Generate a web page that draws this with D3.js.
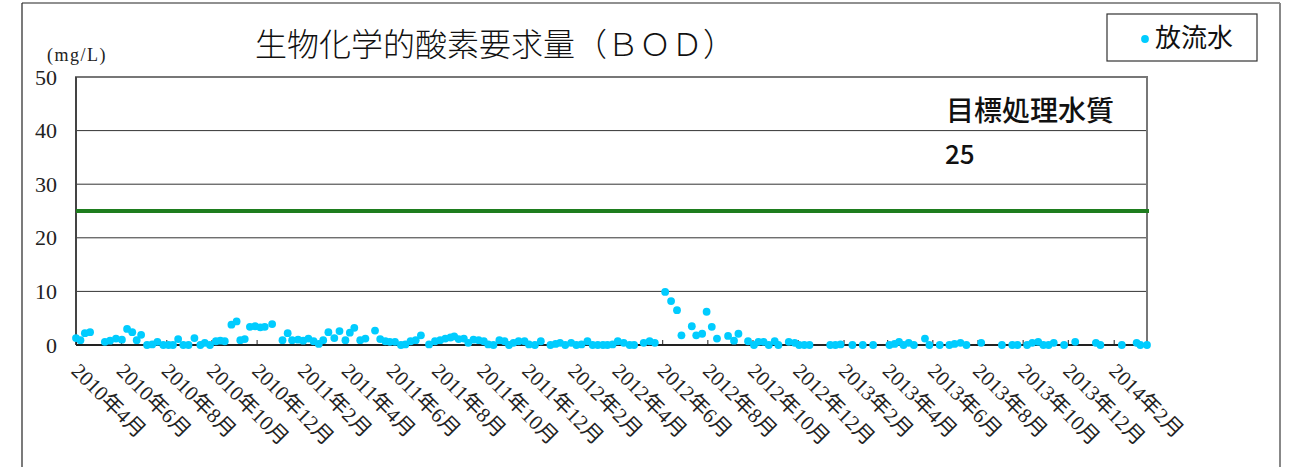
<!DOCTYPE html>
<html>
<head>
<meta charset="utf-8">
<script src="https://cdn.jsdelivr.net/npm/d3@7"></script>
<style>
  body { margin: 0; background: #fff; }
  svg { display: block; }
  .serif { font-family: "Liberation Serif", "Noto Sans CJK JP", serif; fill: #222; }
  .gothic { font-family: "Noto Sans CJK JP", "Noto Sans", sans-serif; fill: #111; }
</style>
</head>
<body>
<svg id="chart" width="1290" height="467"></svg>
<script>
// BOD of discharged water, weekly samples (mg/L)
var sampleDates = [
  "2010-04-01","2010-04-07","2010-04-13","2010-04-20","2010-05-10","2010-05-17","2010-05-25",
  "2010-06-02","2010-06-09","2010-06-16","2010-06-22","2010-06-28","2010-07-06","2010-07-13",
  "2010-07-20","2010-07-28","2010-08-04","2010-08-10","2010-08-17","2010-08-24","2010-08-31",
  "2010-09-08","2010-09-16","2010-09-22","2010-09-29","2010-10-07","2010-10-13","2010-10-19",
  "2010-10-28","2010-11-04","2010-11-09","2010-11-15","2010-11-22","2010-11-29","2010-12-06",
  "2010-12-12","2010-12-22",
  "2011-01-05","2011-01-12","2011-01-18","2011-01-26","2011-02-02","2011-02-09","2011-02-16",
  "2011-02-23","2011-03-01","2011-03-08","2011-03-16","2011-03-23","2011-03-31","2011-04-06",
  "2011-04-12","2011-04-20","2011-04-27","2011-05-10","2011-05-17","2011-05-24","2011-05-30",
  "2011-06-06","2011-06-14","2011-06-20","2011-06-27","2011-07-04","2011-07-11","2011-07-22",
  "2011-07-30","2011-08-06","2011-08-13","2011-08-20","2011-08-25","2011-08-31","2011-09-07",
  "2011-09-13","2011-09-20","2011-09-27","2011-10-04","2011-10-10","2011-10-17","2011-10-25",
  "2011-11-01","2011-11-07","2011-11-13","2011-11-20","2011-11-28","2011-12-04","2011-12-12",
  "2011-12-20",
  "2012-01-02","2012-01-09","2012-01-15","2012-01-22","2012-01-30","2012-02-06","2012-02-13",
  "2012-02-21","2012-02-28","2012-03-06","2012-03-13","2012-03-19","2012-03-26","2012-04-02",
  "2012-04-10","2012-04-18","2012-04-24","2012-05-07","2012-05-15","2012-05-22","2012-06-05",
  "2012-06-13","2012-06-21","2012-06-27","2012-07-11","2012-07-17","2012-07-25","2012-07-31",
  "2012-08-07","2012-08-14","2012-08-29","2012-09-06","2012-09-12","2012-09-25","2012-10-03",
  "2012-10-09","2012-10-16","2012-10-23","2012-10-31","2012-11-05","2012-11-19","2012-11-27",
  "2012-12-03","2012-12-10","2012-12-17",
  "2013-01-14","2013-01-21","2013-01-28","2013-02-13","2013-02-27","2013-03-13","2013-04-04",
  "2013-04-11","2013-04-17","2013-04-23","2013-04-30","2013-05-07","2013-05-22","2013-05-28",
  "2013-06-11","2013-06-24","2013-07-01","2013-07-09","2013-07-17","2013-08-06","2013-09-03",
  "2013-09-17","2013-09-24","2013-10-07","2013-10-14","2013-10-22","2013-10-29","2013-11-05",
  "2013-11-12","2013-11-26","2013-12-11",
  "2014-01-08","2014-01-14","2014-02-12","2014-03-04","2014-03-09","2014-03-18"
];
var bodValues = [
  1.3,0.9,2.2,2.4,0.6,0.8,1.2,
  1.0,3.0,2.4,0.9,1.9,0,0.1,
  0.6,0,0,0,1.1,0,0,
  1.3,0,0.4,0,0.7,0.8,0.7,
  3.8,4.4,0.9,1.1,3.4,3.5,3.3,
  3.4,3.9,
  0.9,2.2,0.9,1.0,0.8,1.2,0.7,
  0.2,0.9,2.4,1.3,2.6,0.9,2.3,
  3.2,0.9,1.2,2.7,1.1,0.7,0.6,
  0.6,0,0.1,0.7,0.9,1.8,0.1,
  0.7,0.9,1.2,1.4,1.6,1.1,1.2,
  0.4,1.0,0.9,0.7,0.1,0,0.9,
  0.7,0,0.4,0.7,0.7,0.1,0,
  0.7,
  0,0.2,0.4,0,0.4,0,0.1,
  0.7,0,0,0,0,0.1,0.7,
  0.4,0,0,0.4,0.7,0.4,9.9,
  8.2,6.5,1.8,3.5,1.8,2.1,6.2,
  3.4,1.2,1.7,0.8,2.1,0.7,0,
  0.6,0.6,0,0.7,0,0.6,0.4,
  0,0,0,
  0,0,0.1,0,0,0,0,
  0.2,0.6,0,0.4,0,1.2,0,
  0,0,0.2,0.4,0,0.4,0,
  0,0,0,0.4,0.6,0,0,
  0.4,0,0.6,
  0.4,0,0,0.4,0,0
];
var yTicks = [0, 10, 20, 30, 40, 50];
var targetValue = 25;
var titleText = "生物化学的酸素要求量（ＢＯＤ）";
var unitText = "(mg/L)";
var seriesName = "放流水";
var targetLabel = "目標処理水質";

var parseDate = d3.timeParse("%Y-%m-%d");
var data = sampleDates.map(function(d, i) {
  return { date: parseDate(d), value: bodValues[i] };
});

var svg = d3.select("#chart");
var plotLeft = 76, plotRight = 1147, plotTop = 77, plotBottom = 345;

var x = d3.scaleTime()
  .domain(d3.extent(data, function(d) { return d.date; }))
  .range([plotLeft, plotRight]);
var y = d3.scaleLinear().domain([0, 50]).range([plotBottom, plotTop]);

// tick every 2 months starting april 2010
var xTicks = d3.timeMonth.range(parseDate("2010-04-01"), parseDate("2014-03-02"), 2);

// outer border
svg.append("line").attr("x1", 22).attr("x2", 22).attr("y1", 3).attr("y2", 467)
  .attr("stroke", "#222").attr("stroke-width", 1.2);
svg.append("line").attr("x1", 22).attr("x2", 1280).attr("y1", 3).attr("y2", 3)
  .attr("stroke", "#222").attr("stroke-width", 1.2);
svg.append("line").attr("x1", 1280).attr("x2", 1280).attr("y1", 3).attr("y2", 467)
  .attr("stroke", "#888").attr("stroke-width", 2);

// title
svg.append("text").attr("class", "gothic")
  .attr("x", 255).attr("y", 45).attr("dy", "0.35em")
  .style("font-size", "32px").style("font-weight", 300)
  .text(titleText);

svg.append("text").attr("class", "serif")
  .attr("x", 47).attr("y", 55).attr("dy", "0.35em")
  .style("font-size", "18px").style("letter-spacing", "1.5px")
  .text(unitText);

// gridlines
svg.append("g")
  .selectAll("line")
  .data(yTicks.filter(function(t) { return t > 0 && t < 50; }))
  .enter().append("line")
    .attr("x1", plotLeft).attr("x2", plotRight)
    .attr("y1", function(d) { return y(d); })
    .attr("y2", function(d) { return y(d); })
    .attr("stroke", "#333").attr("stroke-width", 1);

// plot frame (top/right gray, left dark)
svg.append("path")
  .attr("d", "M" + plotLeft + "," + plotBottom + "V" + plotTop + "H" + plotRight + "V" + plotBottom)
  .attr("fill", "none").attr("stroke", "#777").attr("stroke-width", 2);
svg.append("line").attr("x1", plotLeft).attr("x2", plotLeft).attr("y1", plotTop).attr("y2", plotBottom)
  .attr("stroke", "#333").attr("stroke-width", 1.5);

// y axis labels
var yAxis = svg.append("g")
  .attr("transform", "translate(" + plotLeft + ",0)")
  .call(d3.axisLeft(y).tickValues(yTicks).tickSize(0).tickPadding(19));
yAxis.select(".domain").remove();
yAxis.selectAll("text").attr("class", "serif")
  .style("font-size", "22px").attr("fill", "#222");

// x axis
var xAxis = svg.append("g")
  .attr("transform", "translate(0," + plotBottom + ")")
  .call(d3.axisBottom(x).tickValues(xTicks).tickSize(-5).tickFormat(d3.timeFormat("%Y年%-m月")));
xAxis.select(".domain").attr("stroke", "#222").attr("stroke-width", 2)
  .attr("d", "M" + plotLeft + ",0H" + plotRight);
xAxis.selectAll(".tick line").attr("stroke", "#222");
xAxis.selectAll("text")
  .attr("class", "serif")
  .style("font-size", "21px")
  .attr("fill", "#222")
  .attr("text-anchor", "start")
  .attr("y", 0).attr("x", 0).attr("dy", "0.35em")
  .attr("transform", "translate(-1,22) rotate(45)");

// target line
svg.append("line")
  .attr("x1", plotLeft).attr("x2", plotRight + 2)
  .attr("y1", y(targetValue)).attr("y2", y(targetValue))
  .attr("stroke", "#1e7d1e").attr("stroke-width", 4);

svg.append("text").attr("class", "gothic")
  .attr("x", 946).attr("y", 111).attr("dy", "0.35em")
  .style("font-size", "28px").style("font-weight", 500)
  .text(targetLabel);
svg.append("text").attr("class", "gothic")
  .attr("x", 945).attr("y", 155).attr("dy", "0.35em")
  .style("font-size", "26px").style("font-weight", 500)
  .text(targetValue);

// points
svg.append("g")
  .selectAll("circle")
  .data(data)
  .enter().append("circle")
    .attr("cx", function(d) { return x(d.date); })
    .attr("cy", function(d) { return y(d.value); })
    .attr("r", 3.9)
    .attr("fill", "#00ccff");

// legend
var legend = svg.append("g");
legend.append("rect")
  .attr("x", 1107).attr("y", 14).attr("width", 150).attr("height", 47)
  .attr("fill", "#fff").attr("stroke", "#333").attr("stroke-width", 1.2);
legend.append("circle").attr("cx", 1145).attr("cy", 39).attr("r", 3.9).attr("fill", "#00ccff");
legend.append("text").attr("class", "gothic")
  .attr("x", 1155).attr("y", 38).attr("dy", "0.35em")
  .style("font-size", "26px")
  .text(seriesName);
</script>
</body>
</html>
